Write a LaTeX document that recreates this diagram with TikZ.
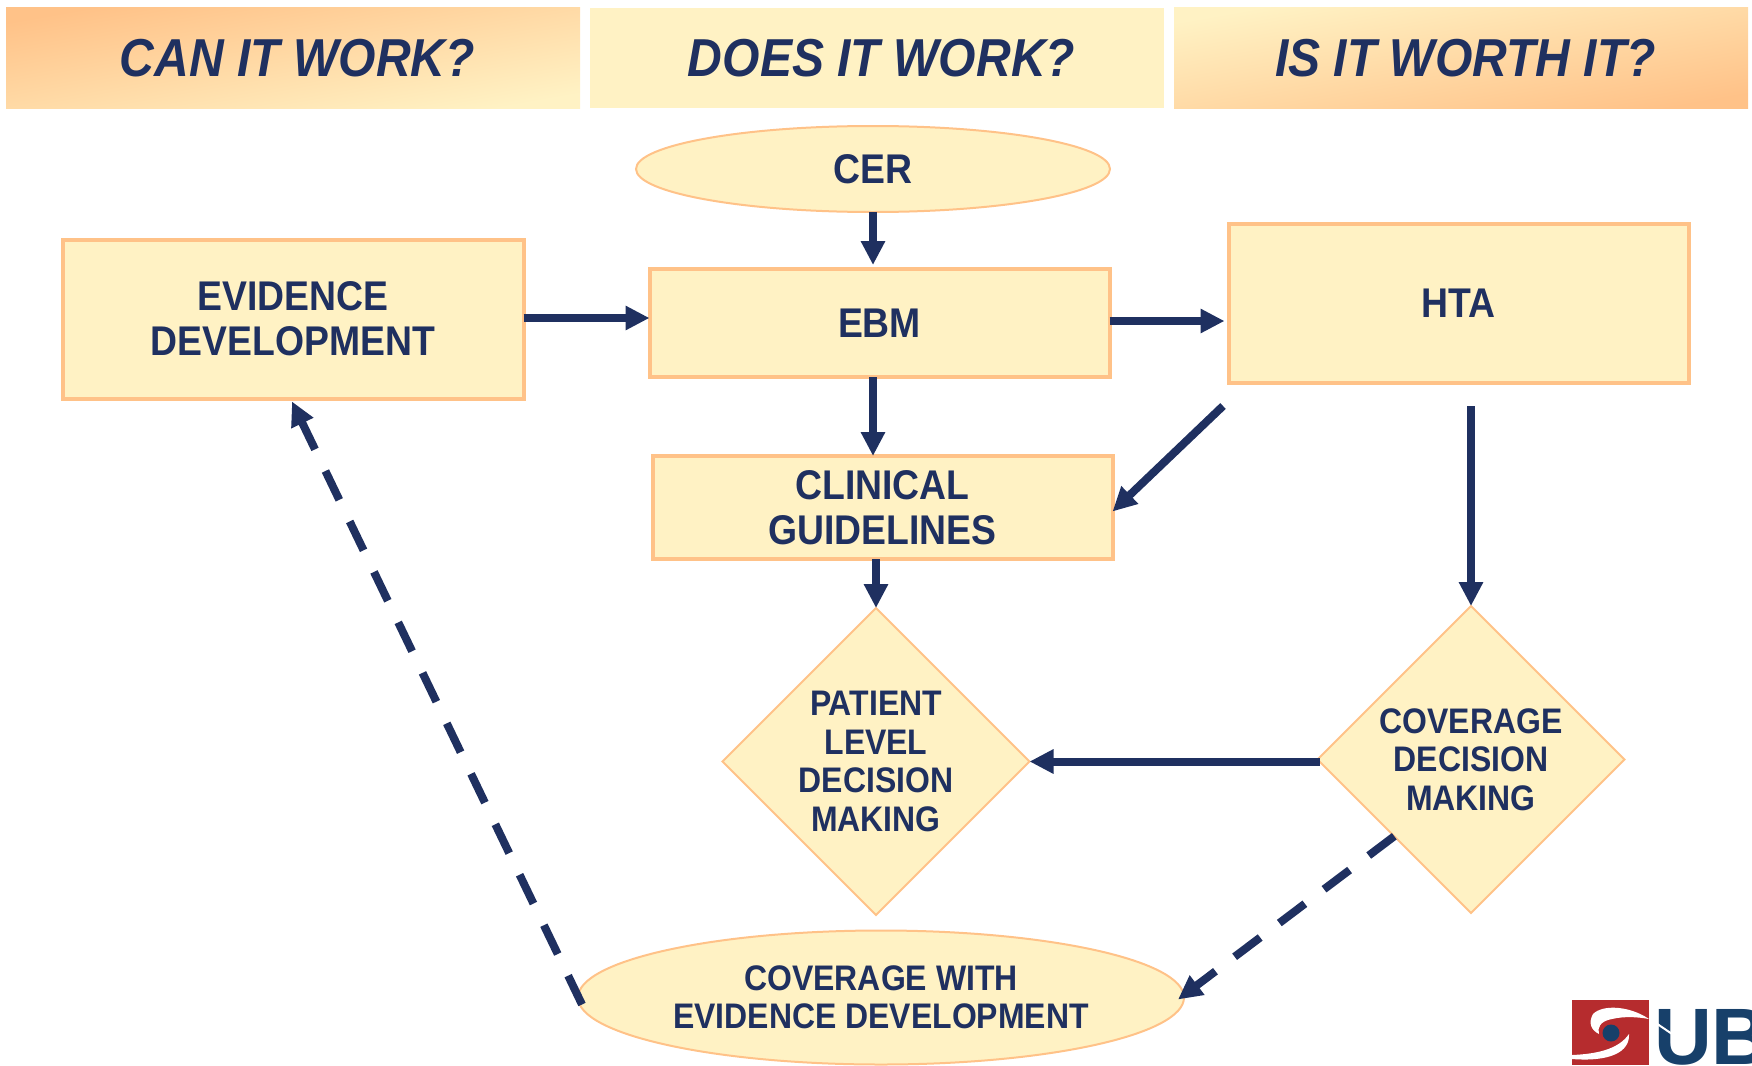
\documentclass[tikz,border=0pt]{standalone}
\usepackage{fontspec}
\setmainfont[FakeStretch=0.9]{Liberation Sans}
\newfontfamily\logofont{Liberation Sans}
\usetikzlibrary{shapes.geometric,arrows.meta}

\definecolor{creamfill}{HTML}{FFF2C4}
\definecolor{peachline}{HTML}{FFC288}
\definecolor{navyink}{HTML}{1F3060}
\definecolor{logored}{HTML}{B62C2E}
\definecolor{logoblue}{HTML}{17406A}

\tikzset{
  headbox/.style={minimum width=574pt,minimum height=100pt,inner sep=0pt,outer sep=0pt,text=navyink,
    font=\fontsize{53.4}{60}\selectfont\bfseries\itshape},
  flowtext/.style={text=navyink,align=center,inner sep=0pt,outer sep=0pt,
    font=\fontsize{41.5}{45}\selectfont\bfseries},
  smalltext/.style={text=navyink,align=center,inner sep=0pt,outer sep=0pt,
    font=\fontsize{35.5}{38.5}\selectfont\bfseries},
  flowbox/.style={draw=peachline,fill=creamfill,line width=4pt,rectangle,flowtext},
  flowoval/.style={draw=peachline,fill=creamfill,line width=2pt,ellipse},
  flowdiamond/.style={draw=peachline,fill=creamfill,line width=2pt,diamond,shape aspect=1,
    minimum width=307pt,minimum height=307pt,smalltext},
  flowarrow/.style={draw=navyink,line width=8pt,-{Triangle[length=24pt,width=23pt]}},
  dasharrow/.style={flowarrow,dash pattern=on 32pt off 24pt}
}

\begin{document}
\begin{tikzpicture}[x=1pt,y=-1pt]
  \useasboundingbox (0,0) rectangle (1752,1065);

  % Column headings
  \node[headbox,top color=peachline,bottom color=creamfill,shading angle=10] (canhead) at (293,58) {\hspace*{9pt}CAN IT WORK?};
  \node[headbox,fill=creamfill] (doeshead) at (877,58) {\hspace*{9pt}DOES IT WORK?};
  \node[headbox,top color=creamfill,bottom color=peachline,shading angle=10] (worthhead) at (1461,58) {\hspace*{9pt}IS IT WORTH IT?};

  % Boxes
  \node[flowoval,flowtext,minimum width=474pt,minimum height=86pt] (cer) at (873,169) {CER};
  \node[flowbox,minimum width=461pt,minimum height=159pt] (evidence) at (293,319) {EVIDENCE\\DEVELOPMENT};
  \node[flowbox,minimum width=460pt,minimum height=108pt] (ebm) at (879.5,323) {EBM};
  \node[flowbox,minimum width=460pt,minimum height=159pt] (hta) at (1458.5,303) {HTA};
  \node[flowbox,minimum width=460pt,minimum height=103pt] (clinical) at (882.5,507.5) {CLINICAL\\GUIDELINES};

  % Decisions
  \node[flowdiamond] (patient) at (876,761.5) {PATIENT\\LEVEL\\DECISION\\MAKING};
  \node[flowdiamond] (coverage) at (1471,759.5) {COVERAGE\\DECISION\\MAKING};
  \node[flowoval,smalltext,minimum width=606pt,minimum height=134pt] (ced) at (881,997.5) {COVERAGE WITH\\EVIDENCE DEVELOPMENT};

  % Free ends below HTA
  \coordinate (htaleft) at (1223,406);
  \coordinate (htadown) at (1471,406);

  % Solid arrows
  \draw[flowarrow] (cer.south) -- ([yshift=4pt]ebm.north -| cer.south);
  \draw[flowarrow] (ebm.south -| cer.south) -- (clinical.north -| cer.south);
  \draw[flowarrow] (clinical.south -| patient.north) -- (patient.north);
  \draw[flowarrow] ([yshift=1pt]evidence.east) -- ([yshift=1pt]evidence.east -| ebm.west);
  \draw[flowarrow] ([yshift=2pt]ebm.east) -- ([xshift=-4pt,yshift=2pt]ebm.east -| hta.west);
  \draw[flowarrow] (htaleft) -- ([yshift=-4pt]clinical.east);
  \draw[flowarrow] (htadown) -- (coverage.north);
  \draw[flowarrow] ([xshift=2pt]coverage.west |- patient.east) -- (patient.east);

  % Dashed arrows
  \draw[dasharrow] (coverage.south west) -- ([xshift=-6pt,yshift=-2pt]ced.east);
  \draw[dasharrow] ([xshift=4pt,yshift=-7pt]ced.west) -- ([xshift=-1pt,yshift=-3pt]evidence.south);

  % Logo in the corner
  \fill[logored] (1572,1000) rectangle (1649,1065);
  \fill[white] (1649,1019) .. controls (1630,1006) and (1603,1004) .. (1593,1014)
    .. controls (1588,1023) and (1591,1030) .. (1599,1034)
    .. controls (1597,1028) and (1600,1021) .. (1612,1019)
    .. controls (1625,1016) and (1638,1017) .. (1649,1019) -- cycle;
  \fill[white] (1572,1055) .. controls (1595,1054) and (1618,1050) .. (1629,1034)
    .. controls (1630,1052) and (1610,1062) .. (1572,1059) -- cycle;
  \fill[logoblue] (1611,1033) circle (8.5);
  \begin{scope}
    \clip (1650,1000) rectangle (1752,1065);
    \node[text=logoblue,inner sep=0pt,anchor=base west,font=\fontsize{80}{80}\logofont\bfseries] (ublogo) at (1654,1064) {UB};
    \draw[white,line width=2pt] (1650,1019) -- (1675,1036);
  \end{scope}
\end{tikzpicture}
\end{document}
